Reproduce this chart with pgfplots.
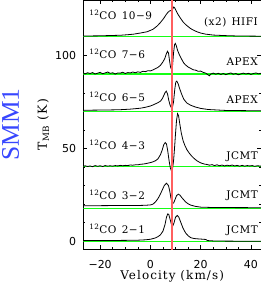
\documentclass[border=0pt]{standalone}
\usepackage{pgfplots}
\pgfplotsset{compat=1.18}
\usepackage{fontspec}
\setmainfont{DejaVu Serif}
\newfontfamily\widef[LetterSpace=9]{DejaVu Serif}
\newfontfamily\labf[LetterSpace=5]{DejaVu Serif}
\newfontfamily\timesf{Liberation Serif}
\newfontfamily\ticksf{DejaVu Sans}
\definecolor{redline}{RGB}{255,95,95}
\definecolor{greenline}{RGB}{20,255,20}
\definecolor{smmblue}{RGB}{55,70,255}
\begin{document}
\begin{tikzpicture}
\begin{axis}[
  scale only axis, width=177.7bp, height=249bp,
  xmin=-26.7, xmax=44, ymin=-4.15, ymax=130,
  xtick={-20,0,20,40}, xticklabels={−20,0,20,40},
  ytick={0,50,100}, yticklabels={0,50,100},
  minor x tick num=3, minor y tick num=4,
  tick align=inside, major tick length=4bp, minor tick length=2.2bp,
  axis line style={line width=0.6bp}, every tick/.style={line width=0.5bp, black},
  ticklabel style={font=\ticksf\fontsize{11}{13}\selectfont, inner sep=0pt},
  xticklabel style={yshift=-11.5bp},
  yticklabel style={xshift=-7bp},
  xlabel={Velocity (km/s)},
  xlabel style={at={(axis description cs:0.5,0)}, anchor=north, inner sep=0pt, yshift=-21bp, font=\widef\fontsize{12}{14}\selectfont},
  ylabel={T\textsubscript{MB} (K)},
  ylabel style={at={(axis description cs:-0.225,0.5)}, anchor=center, inner sep=0pt, font=\widef\fontsize{12.5}{14}\selectfont},
  clip=true,
]
% green baselines
\addplot[greenline, line width=1.4bp] coordinates {(-26.7,0) (44,0)};
\addplot[greenline, line width=1.4bp] coordinates {(-26.7,17.8) (44,17.8)};
\addplot[greenline, line width=1.4bp] coordinates {(-26.7,40.2) (44,40.2)};
\addplot[greenline, line width=1.4bp] coordinates {(-26.7,69.8) (44,69.8)};
\addplot[greenline, line width=1.4bp] coordinates {(-26.7,90.2) (44,90.2)};
\addplot[greenline, line width=1.4bp] coordinates {(-26.7,110.4) (44,110.4)};
% 2-1 (offset 0)
\addplot[black, line width=0.8bp] table[y expr=\thisrow{T}+0] {
v T
-26.7 0.4
-20 0.4
-10 0.5
-5 0.6
-2 0.8
0 1.1
2 1.8
3 2.5
4 3.5
5 5.5
5.8 9
6.4 13
6.9 14.8
7.3 14.5
7.8 12
8.4 9
8.9 8.3
9.4 10
10 13
10.7 13.9
11.3 13
12 10.5
13 7
14 4.5
15 3
16 2
17 1.6
18 1.4
20 1.2
22 1.0
22.7 0.4
25 0.2
30 0.1
44 0
};
% 3-2 (offset 18)
\addplot[black, line width=0.8bp] table[y expr=\thisrow{T}+18] {
v T
-26.7 1.2
-20 1.2
-10 1.3
-5 1.3
-2 1.4
0 1.6
1 2.0
2 3.2
3 5
4 7.5
4.7 9.6
5.5 12
6.4 13.3
7.2 12
7.7 9
8.2 5
8.8 2.3
9.3 2.8
9.8 4.5
10.4 6.6
11.1 7.4
11.8 6.8
12.5 5.5
13.3 4.3
14 3.2
15 2.2
16 1.5
18 0.8
20 0.4
25 0.2
44 0.1
};
% 4-3 (offset 40.2)
\addplot[black, line width=0.8bp] table[y expr=\thisrow{T}+40.2] {
v T
-26.7 0.2
-26 0.5
-25 0.1
-24 0.4
-23 0.0
-22 0.6
-21 0.2
-20 0.5
-19 0.1
-18 0.6
-17 0.3
-16 0.5
-15 0.3
-14 0.6
-13 0.4
-12 0.7
-11 0.5
-10 0.7
-9 0.6
-8 0.9
-7 0.8
-6 1.0
-5 1.0
-4 1.3
-3 1.4
-2 1.6
-1 1.9
0 2.2
1 2.6
2 3.2
3 4.2
4 6.5
4.7 9
5.3 11.8
5.9 13
6.4 12.2
6.9 8.5
7.4 3.5
7.9 -0.5
8.4 -2.4
8.8 -1
9.2 3
9.6 10
10.0 18
10.4 25
10.8 28.6
11.2 27.5
11.7 23
12.3 18
13.0 14
13.7 11.5
14.5 9.2
15.5 7.2
16.5 5.6
17.5 4.3
18.5 3.2
19.5 2.4
20.5 1.8
21.5 1.4
22.5 1.2
23.5 0.8
24.5 1.1
25.5 0.6
26.5 1.0
27.5 0.5
28.5 0.9
29.5 0.4
30.5 0.8
31.5 0.5
32.5 0.9
33.5 0.4
34.5 0.7
35.5 0.3
36.5 0.7
37.5 0.3
38.5 0.6
39.5 0.4
40.5 0.6
41.5 0.2
42.5 0.5
44 0.3
};
% 6-5 (offset 70)
\addplot[black, line width=0.8bp] table[y expr=\thisrow{T}+70] {
v T
-26.7 0.6
-20 0.7
-15 0.8
-12 0.9
-8 1.2
-4 1.7
-2 2.2
0 2.9
1.3 3.6
3 4.7
4 5.5
4.8 7
5.3 8.5
5.8 10
6.3 10.9
6.8 9.5
7.3 6
7.8 3.5
8.3 2
8.7 1.8
9.2 5
9.7 12
10.1 15.8
10.5 16.3
11 15
11.7 12
12.5 9
13.3 6.5
14.5 4.5
16 3.3
18 2.3
20 1.6
23 1.0
27 0.7
30 0.5
44 0.3
};
% 7-6 (offset 90.4)
\addplot[black, line width=0.8bp] table[y expr=\thisrow{T}+90.4] {
v T
-26.7 0.3
-26 -0.2
-25 0.4
-24 0.0
-23 0.5
-22 -0.3
-21 0.2
-20 0.6
-19 -0.1
-18 0.3
-17 0.8
-16 0.1
-15 0.4
-14 -0.3
-13 0.3
-12 0.2
-11 0.7
-10 0.0
-9 0.5
-8 0.3
-7 0.8
-6 0.4
-5 0.9
-4 0.6
-3 1.2
-2 1.0
-1 1.5
0 1.4
1 1.9
2 2.6
3 3.3
4 4.4
5 6.3
5.7 8.0
6.3 10.5
6.8 12.0
7.2 11.0
7.6 7
8.0 3.5
8.4 2.2
8.8 4
9.2 11
9.6 15.5
9.9 16.2
10.3 15
10.8 12.5
11.3 10.8
12 8.8
12.7 7
13.3 5.6
14 4.6
15 3.5
16 2.8
17 2.0
18 1.8
19 1.2
20 1.3
21 0.6
22 0.2
23 -0.8
23.5 -1.2
24 -0.3
25 0.2
26 -0.4
27 0.1
28 -0.5
29 0.0
30 -0.6
31 -0.1
32 0.3
33 -0.4
34 0.0
35 -0.7
36 -0.2
37 0.2
38 -0.3
39 0.1
40 -0.5
41 0.0
42 0.3
43 -0.2
44 0.1
};
% 10-9 (offset 110.4), x2
\addplot[black, line width=0.8bp] table[y expr=\thisrow{T}+110.4] {
v T
-26.7 0.2
-20 0.3
-15 0.5
-12 0.6
-9 0.9
-6.7 1.2
-4 1.8
-1.3 2.5
1 3.8
2.7 5.6
4 7.5
5.3 9.7
6.3 11.8
7.0 13.0
7.6 13.7
8.1 13.9
8.5 13.4
8.9 14.8
9.3 15.8
9.7 15.3
10.3 13.6
11.0 11.8
12 9.7
13 7.8
14 6.4
14.7 5.6
16 4.2
17.5 3.1
18.7 2.4
20 1.8
22 1.2
25 0.7
30 0.4
35 0.2
44 0.1
};
% red systemic velocity line
\addplot[redline, line width=1.6bp] coordinates {(8.6,-5) (8.6,131)};
% labels
\node[anchor=base west, inner sep=0pt, font=\labf\fontsize{10.5}{12}\selectfont] at (axis cs:-24.4,119.5) {\textsuperscript{12}CO\hspace{0.5em}10−9};
\node[anchor=base west, inner sep=0pt, font=\labf\fontsize{10.5}{12}\selectfont] at (axis cs:-24.4,98.4) {\textsuperscript{12}CO\hspace{0.5em}7−6};
\node[anchor=base west, inner sep=0pt, font=\labf\fontsize{10.5}{12}\selectfont] at (axis cs:-24.4,75.2) {\textsuperscript{12}CO\hspace{0.5em}6−5};
\node[anchor=base west, inner sep=0pt, font=\labf\fontsize{10.5}{12}\selectfont] at (axis cs:-24.4,49.5) {\textsuperscript{12}CO\hspace{0.5em}4−3};
\node[anchor=base west, inner sep=0pt, font=\labf\fontsize{10.5}{12}\selectfont] at (axis cs:-24.4,22.5) {\textsuperscript{12}CO\hspace{0.5em}3−2};
\node[anchor=base west, inner sep=0pt, font=\labf\fontsize{10.5}{12}\selectfont] at (axis cs:-24.4,4.1) {\textsuperscript{12}CO\hspace{0.5em}2−1};
\node[anchor=base east, inner sep=0pt, font=\labf\fontsize{10.5}{12}\selectfont] at (axis cs:42.8,116) {(x2)\hspace{0.5em}HIFI};
\node[anchor=base east, inner sep=0pt, font=\labf\fontsize{10.5}{12}\selectfont] at (axis cs:42.8,94.6) {APEX};
\node[anchor=base east, inner sep=0pt, font=\labf\fontsize{10.5}{12}\selectfont] at (axis cs:42.8,74.5) {APEX};
\node[anchor=base east, inner sep=0pt, font=\labf\fontsize{10.5}{12}\selectfont] at (axis cs:42.8,44.2) {JCMT};
\node[anchor=base east, inner sep=0pt, font=\labf\fontsize{10.5}{12}\selectfont] at (axis cs:42.8,23) {JCMT};
\node[anchor=base east, inner sep=0pt, font=\labf\fontsize{10.5}{12}\selectfont] at (axis cs:42.8,4.3) {JCMT};
\end{axis}
\node[rotate=90, inner sep=0pt, text=smmblue, font=\timesf\fontsize{25.5}{28}\selectfont] at ([xshift=-72.8bp]current axis.west) {SMM1};
\pgfresetboundingbox
\path ([xshift=-83.3bp,yshift=-35bp]current axis.south west) rectangle (current axis.north east);
\end{tikzpicture}
\end{document}
